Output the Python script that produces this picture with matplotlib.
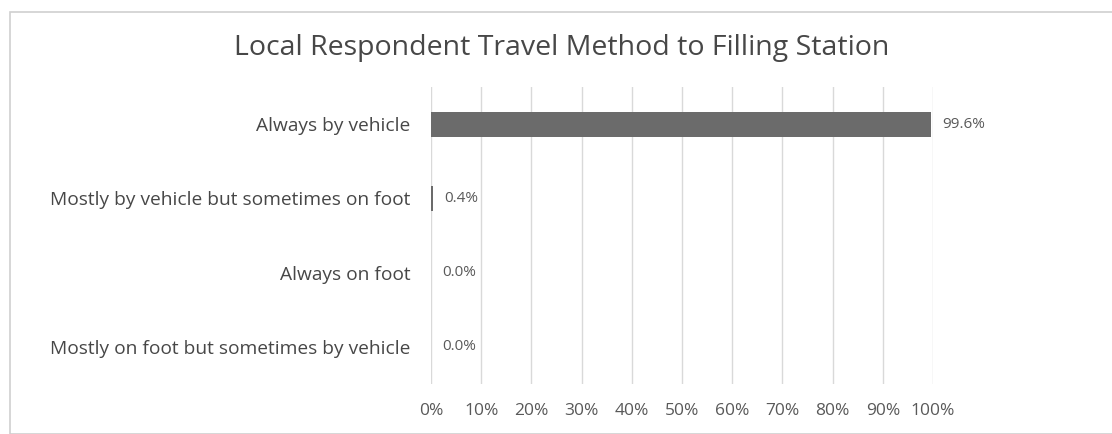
import numpy as np
import matplotlib.pyplot as plt
from matplotlib.patches import Rectangle

categories = ['Always by vehicle',
              'Mostly by vehicle but sometimes on foot',
              'Always on foot',
              'Mostly on foot but sometimes by vehicle']
values = [99.6, 0.4, 0.0, 0.0]
value_labels = ['99.6%', '0.4%', '0.0%', '0.0%']
ticks = [0, 10, 20, 30, 40, 50, 60, 70, 80, 90, 100]

plt.rcParams['font.family'] = ['Open Sans', 'DejaVu Sans']
txt = '#595959'

fig = plt.figure(figsize=(11.12, 4.34), dpi=100)
fig.patches.append(Rectangle((10/1112, 0.0), 1.0, 1 - 12/434, transform=fig.transFigure,
                             fill=False, edgecolor='#d0d0d0', linewidth=1.2))
ax = fig.add_axes([431/1112, 1 - 384/434, 502/1112, 297/434])

y = np.arange(len(categories))
ax.barh(y, values, height=0.34, color='#6b6b6b', zorder=3)
for yi, v, lab in zip(y, values, value_labels):
    ax.text(v + 2.3, yi, lab, va='center', ha='left', fontsize=11, color=txt)

ax.set_xlim(0, 100)
ax.set_ylim(len(categories) - 0.5, -0.5)
ax.set_yticks(y)
ax.set_yticklabels(categories, fontsize=13.8, color='#474747')
ax.set_xticks(ticks)
ax.set_xticklabels([f'{t}%' for t in ticks], fontsize=12.5, color=txt)
ax.tick_params(length=0, pad=14, axis='x')
ax.tick_params(length=0, pad=15, axis='y')
ax.grid(axis='x', color='#d9d9d9', linewidth=1, zorder=0)
for s in ax.spines.values():
    s.set_visible(False)

fig.text(0.505, 1 - 48/434, 'Local Respondent Travel Method to Filling Station',
         ha='center', va='center', fontsize=20.5, color='#474747')

fig.savefig('out.png', dpi=100)
